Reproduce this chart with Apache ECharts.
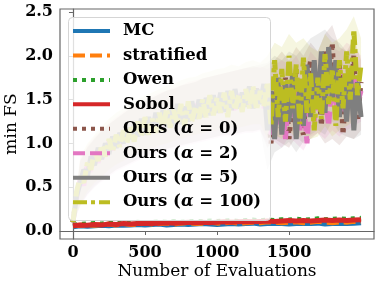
<!DOCTYPE html>
<html><head><meta charset="utf-8">
<script src="https://cdn.jsdelivr.net/npm/echarts@6/dist/echarts.min.js"></script>
<style>html,body{margin:0;padding:0;background:#fff}#c{width:382px;height:286px}</style>
</head><body><div id="c"></div>
<script>
// ---------- data ----------
const xFine = []; for (let i = 0; i <= 80; i++) xFine.push(i * 25);     // 0..2000 step 25
const xCoarse = []; for (let i = 0; i <= 40; i++) xCoarse.push(i * 50); // 0..2000 step 50

const xTicks = [0, 500, 1000, 1500];
const yTicks = [0, 0.5, 1.0, 1.5, 2.0, 2.5];

const names = ['MC', 'stratified', 'Owen', 'Sobol', 'Ours (α = 0)', 'Ours (α = 2)', 'Ours (α = 5)', 'Ours (α = 100)'];

const mc = [0.05,0.06,0.055,0.06,0.065,0.06,0.07,0.065,0.07,0.075,0.07,0.075,0.08,0.07,0.075,0.08,0.075,0.08,0.085,0.08,0.075,0.08,0.085,0.08,0.085,0.09,0.08,0.085,0.09,0.085,0.08,0.085,0.09,0.085,0.09,0.08,0.085,0.09,0.085,0.09,0.095];
const stratified = [0.06,0.065,0.07,0.065,0.075,0.08,0.07,0.085,0.075,0.08,0.09,0.08,0.085,0.09,0.08,0.09,0.095,0.085,0.09,0.1,0.09,0.095,0.1,0.09,0.095,0.1,0.095,0.105,0.1,0.095,0.1,0.105,0.095,0.1,0.11,0.1,0.095,0.105,0.1,0.11,0.105];
const owen = [0.07,0.075,0.08,0.085,0.08,0.09,0.085,0.095,0.09,0.1,0.095,0.1,0.105,0.1,0.11,0.1,0.105,0.11,0.105,0.115,0.11,0.115,0.12,0.11,0.12,0.125,0.115,0.125,0.12,0.13,0.125,0.135,0.125,0.13,0.14,0.13,0.135,0.14,0.135,0.14,0.145];
const sobol = [0.06,0.07,0.065,0.075,0.07,0.08,0.075,0.085,0.08,0.085,0.09,0.085,0.09,0.095,0.09,0.095,0.1,0.095,0.1,0.095,0.1,0.105,0.1,0.105,0.11,0.105,0.11,0.115,0.11,0.115,0.12,0.115,0.12,0.115,0.12,0.125,0.12,0.125,0.12,0.125,0.13];

const ours0 = [0.10,0.42,0.58,0.66,0.72,0.80,0.78,0.90,0.86,0.96,0.92,1.02,0.98,1.06,1.04,1.12,1.08,1.16,1.12,1.20,1.16,1.24,1.20,1.28,1.24,1.32,1.26,1.34,1.30,1.38,1.32,1.40,1.36,1.44,1.38,1.46,1.40,1.48,1.42,1.50,1.45,1.52,1.46,1.54,1.48,1.56,1.50,1.58,1.52,1.60,1.54,1.62,1.50,1.64,1.45,1.00,1.60,1.40,1.15,1.75,1.05,1.50,1.85,1.30,1.10,1.70,1.95,1.40,1.80,1.20,2.05,1.60,2.15,1.30,1.90,1.10,1.75,1.45,2.00,1.25,1.70];
const ours2 = [0.10,0.38,0.60,0.52,0.75,0.68,0.88,0.78,0.95,0.86,1.02,0.92,1.08,0.98,1.12,1.02,1.18,1.05,1.20,1.10,1.25,1.12,1.28,1.15,1.32,1.18,1.35,1.20,1.38,1.22,1.40,1.25,1.42,1.28,1.45,1.30,1.48,1.32,1.50,1.33,1.52,1.35,1.55,1.36,1.56,1.38,1.58,1.40,1.60,1.40,1.62,1.42,1.60,1.40,1.55,1.10,1.50,1.20,1.65,1.05,1.55,1.30,1.70,1.15,1.50,1.00,1.60,1.25,1.75,1.35,1.55,1.20,1.70,1.40,1.85,1.35,1.65,1.50,1.80,1.45,1.60];
const ours5 = [0.10,0.40,0.55,0.70,0.62,0.85,0.75,0.95,0.82,1.00,0.88,1.08,0.95,1.12,1.00,1.18,1.05,1.22,1.08,1.28,1.10,1.30,1.12,1.35,1.15,1.38,1.18,1.40,1.20,1.45,1.22,1.42,1.25,1.48,1.28,1.50,1.30,1.52,1.32,1.55,1.35,1.58,1.36,1.60,1.38,1.62,1.40,1.58,1.42,1.65,1.40,1.62,1.45,1.68,1.15,1.60,1.05,1.75,1.10,1.70,1.25,1.80,1.05,1.65,1.20,1.90,1.30,1.95,1.40,2.05,1.35,2.10,1.50,1.95,1.30,1.75,1.25,1.85,1.15,1.70,1.30];
const ours100 = [0.10,0.45,0.62,0.55,0.78,0.70,0.92,0.80,0.98,0.85,1.05,0.90,1.10,0.96,1.15,1.00,1.20,1.02,1.25,1.08,1.30,1.10,1.28,1.12,1.35,1.15,1.40,1.18,1.38,1.22,1.45,1.20,1.48,1.25,1.42,1.28,1.50,1.30,1.55,1.32,1.52,1.35,1.58,1.30,1.60,1.38,1.55,1.36,1.62,1.40,1.65,1.38,1.60,1.42,1.70,1.20,1.95,1.30,1.85,1.25,2.00,1.40,1.90,1.22,1.98,1.35,1.80,1.15,1.75,1.28,2.02,1.45,1.85,1.20,1.95,1.40,2.05,1.50,2.30,1.55,1.90];

// confidence bands (step 50)
const ours0Lo = [0.08,0.30,0.42,0.52,0.58,0.64,0.70,0.74,0.78,0.82,0.86,0.88,0.92,0.94,0.96,0.98,1.00,1.02,1.04,1.06,1.08,1.10,1.10,1.12,1.14,1.14,1.16,0.95,1.05,1.00,0.95,1.08,1.00,1.05,1.12,1.00,1.05,0.98,1.08,1.05,1.15];
const ours0Hi = [0.14,0.80,0.95,1.05,1.15,1.22,1.28,1.34,1.40,1.44,1.48,1.52,1.56,1.60,1.62,1.66,1.68,1.70,1.74,1.76,1.78,1.80,1.82,1.84,1.86,1.88,1.86,1.90,1.95,2.05,1.95,2.10,2.00,2.15,2.05,2.25,2.35,2.10,2.05,2.20,1.95];
const ours2Lo = [0.08,0.28,0.40,0.50,0.56,0.62,0.68,0.72,0.76,0.80,0.84,0.86,0.90,0.92,0.94,0.96,0.98,1.00,1.02,1.04,1.06,1.08,1.08,1.10,1.12,1.12,1.14,1.00,1.02,0.95,1.08,1.00,0.92,1.08,1.12,1.05,1.15,1.08,1.15,1.20,1.25];
const ours2Hi = [0.14,0.82,0.98,1.08,1.16,1.24,1.30,1.36,1.42,1.46,1.50,1.54,1.58,1.60,1.64,1.66,1.70,1.72,1.74,1.76,1.78,1.80,1.82,1.84,1.86,1.86,1.88,1.85,1.90,1.95,1.90,2.00,1.85,2.05,1.95,2.00,2.10,2.05,2.15,2.10,2.00];
const ours5Lo = [0.08,0.28,0.42,0.50,0.58,0.64,0.70,0.74,0.78,0.82,0.86,0.88,0.92,0.94,0.96,0.98,1.00,1.02,1.04,1.06,1.08,1.10,1.10,1.12,1.14,1.14,1.16,0.70,0.90,0.95,1.02,0.90,1.02,1.10,1.15,1.10,1.25,1.12,1.08,1.05,1.10];
const ours5Hi = [0.14,0.80,0.96,1.06,1.14,1.22,1.28,1.34,1.40,1.44,1.48,1.52,1.56,1.60,1.62,1.66,1.68,1.70,1.74,1.76,1.78,1.80,1.82,1.84,1.86,1.88,1.90,1.92,2.00,1.95,2.05,2.00,2.10,2.20,2.25,2.30,2.20,2.15,2.05,2.10,1.70];
const ours100Lo = [0.08,0.30,0.45,0.55,0.62,0.70,0.76,0.80,0.85,0.90,0.92,0.95,0.98,1.00,1.03,1.05,1.08,1.10,1.12,1.14,1.15,1.16,1.18,1.18,1.20,1.22,1.22,1.05,1.10,1.05,1.15,1.05,1.10,1.05,1.08,1.20,1.08,1.15,1.20,1.25,1.40];
const ours100Hi = [0.15,0.85,1.00,1.10,1.20,1.28,1.35,1.40,1.45,1.50,1.55,1.58,1.62,1.66,1.68,1.72,1.75,1.76,1.80,1.82,1.85,1.86,1.90,1.88,1.93,1.95,1.92,2.00,2.15,2.10,2.25,2.15,2.20,2.10,2.05,2.25,2.15,2.20,2.30,2.45,2.20];

// ---------- styling ----------
const colors = ['#1f77b4', '#ff7f0e', '#2ca02c', '#d62728', '#8c564b', '#e377c2', '#7f7f7f', '#bcbd22'];
const dashTypes = ['solid', [12, 5], [4, 5], 'solid', [4, 5], [12, 5], 'solid', [14, 4, 4, 4]];
const lowSeries = [mc, stratified, owen, sobol];
const oursSeries = [ours0, ours2, ours5, ours100];
const bandLo = [ours0Lo, ours2Lo, ours5Lo, ours100Lo];
const bandHi = [ours0Hi, ours2Hi, ours5Hi, ours100Hi];

const series = [];
for (let k = 0; k < 4; k++) {
  const lo = bandLo[k], hi = bandHi[k];
  series.push({
    type: 'custom', name: 'band' + k, silent: true, z: 1,
    data: xCoarse.map((x, i) => [x, lo[i], hi[i]]),
    encode: { x: 0, y: [1, 2] },
    renderItem: (params, api) => {
      if (params.dataIndex !== 0) return;
      const pts = [];
      for (let i = 0; i < xCoarse.length; i++) pts.push(api.coord([xCoarse[i], hi[i]]));
      for (let i = xCoarse.length - 1; i >= 0; i--) pts.push(api.coord([xCoarse[i], lo[i]]));
      return { type: 'polygon', shape: { points: pts }, style: { fill: colors[4 + k], opacity: 0.14 } };
    }
  });
}
for (let k = 0; k < 8; k++) {
  const isLow = k < 4;
  const vals = isLow ? lowSeries[k] : oursSeries[k - 4];
  const xs = isLow ? xCoarse : xFine;
  series.push({
    type: 'line', name: names[k], symbol: 'none', silent: true, z: 2 + k,
    color: colors[k],
    lineStyle: { color: colors[k], width: 5, type: dashTypes[k] },
    data: vals.map((v, i) => [xs[i], v])
  });
}

// ---------- legend drawn as graphic ----------
const legendGraphics = [{
  type: 'rect', left: 68, top: 17, z: 100,
  shape: { width: 202, height: 203, r: 4 },
  style: { fill: 'rgba(255,255,255,0.8)', stroke: '#d5d5d5', lineWidth: 1 }
}];
names.forEach((n, i) => {
  const cy = 31 + i * 24.45;
  const dash = dashTypes[i] === 'solid' ? null : dashTypes[i];
  legendGraphics.push({
    type: 'line', z: 101,
    shape: { x1: 73, y1: cy, x2: 110, y2: cy },
    style: { stroke: colors[i], lineWidth: 4, lineDash: dash }
  });
  legendGraphics.push({
    type: 'text', z: 101, x: 123, y: cy,
    style: {
      text: n.replace('α', '{a|α}'), verticalAlign: 'middle',
      font: 'bold 16.5px "DejaVu Serif"', fill: '#000',
      rich: { a: { fontFamily: 'DejaVu Serif', fontWeight: 'bold', fontStyle: 'italic', fontSize: 16.5, fill: '#000' } }
    }
  });
});

const chart = echarts.init(document.getElementById('c'), null, { renderer: 'canvas' });
chart.setOption({
  animation: false,
  backgroundColor: '#fff',
  grid: { left: 60, right: 8, top: 9, bottom: 47, containLabel: false, outerBoundsMode: 'none',
    show: true, borderColor: '#666', borderWidth: 1.2, backgroundColor: 'transparent' },
  xAxis: {
    type: 'value', min: -90, max: 2090,
    name: 'Number of Evaluations', nameLocation: 'middle', nameGap: 24, nameMoveOverlap: false,
    nameTextStyle: { fontFamily: 'DejaVu Serif', fontSize: 17, color: '#000' },
    axisLine: { show: true, lineStyle: { color: '#666', width: 1.2 } },
    axisTick: { show: true, length: 4, customValues: xTicks, lineStyle: { color: '#666' } },
    axisLabel: { customValues: xTicks, margin: 6, fontFamily: 'DejaVu Serif', fontWeight: 'bold', fontSize: 16, color: '#000',
      formatter: v => String(v) },
    splitLine: { show: false }
  },
  yAxis: {
    type: 'value', min: -0.091, max: 2.534,
    name: 'min FS', nameLocation: 'middle', nameGap: 40, nameMoveOverlap: false,
    nameTextStyle: { fontFamily: 'DejaVu Serif', fontSize: 17, color: '#000' },
    axisLine: { show: true, lineStyle: { color: '#666', width: 1.2 } },
    axisTick: { show: true, length: 4, customValues: yTicks, lineStyle: { color: '#666' } },
    axisLabel: { customValues: yTicks, margin: 7, fontFamily: 'DejaVu Serif', fontWeight: 'bold', fontSize: 16, color: '#000',
      formatter: v => v.toFixed(1) },
    splitLine: { show: false }
  },
  graphic: legendGraphics,
  series: series
});
</script>
</body></html>
